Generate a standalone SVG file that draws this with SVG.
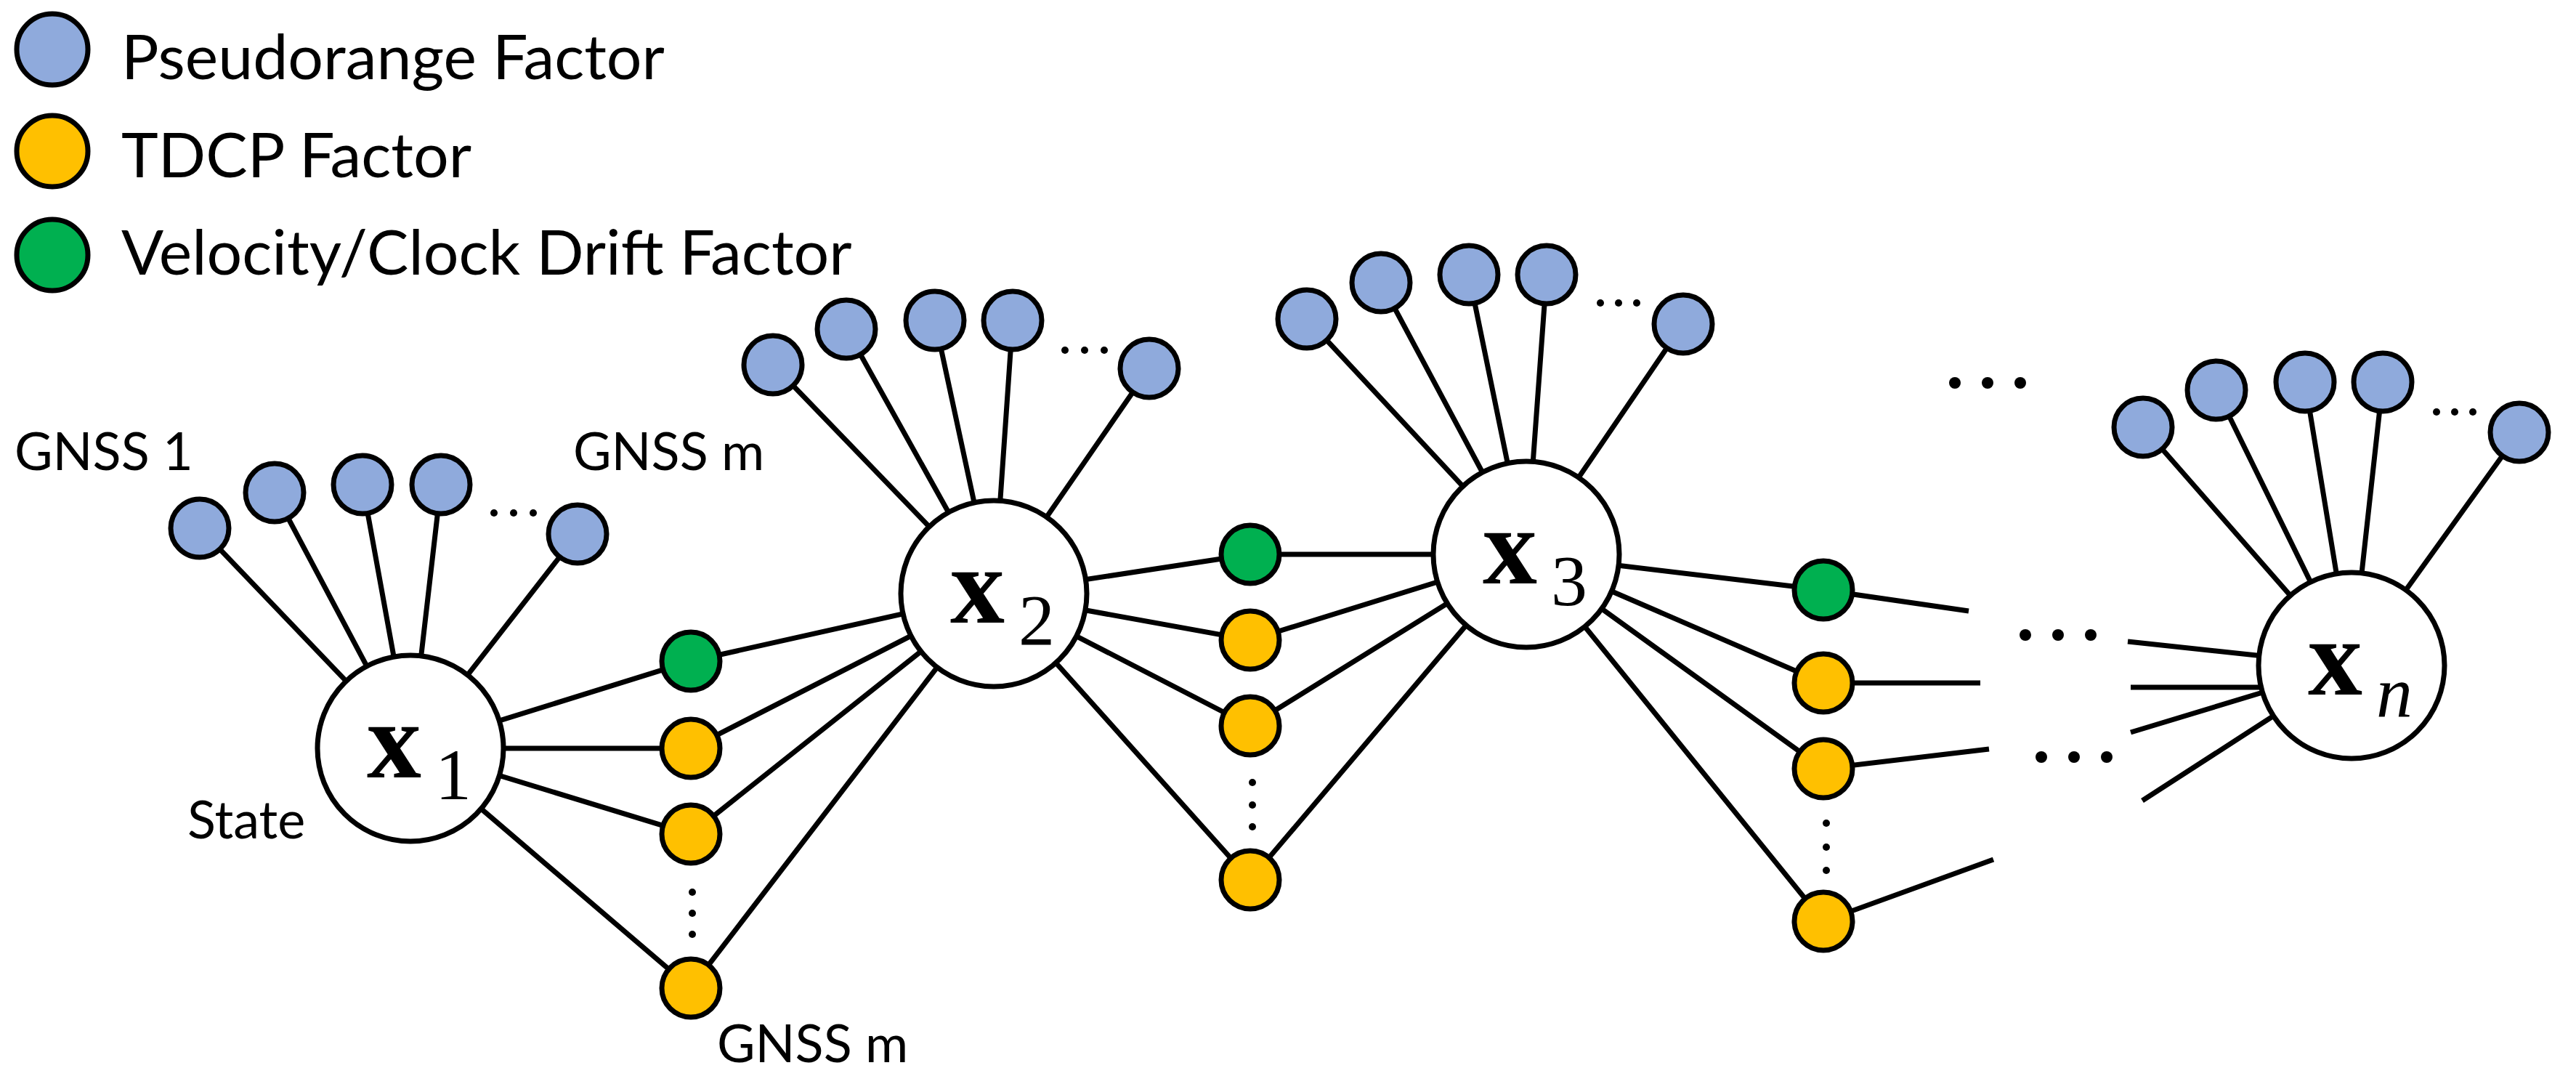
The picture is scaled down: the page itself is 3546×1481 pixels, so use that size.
<svg xmlns="http://www.w3.org/2000/svg" width="3546" height="1481" viewBox="0 0 3546 1481">
<style>
.l{stroke:#000;stroke-width:7;fill:none}
.b{fill:#8faadc;stroke:#000;stroke-width:7}
.o{fill:#ffc000;stroke:#000;stroke-width:7}
.g{fill:#00b050;stroke:#000;stroke-width:7}
.s{fill:#fff;stroke:#000;stroke-width:7}
.t{font-family:Lato,"Open Sans",sans-serif;fill:#000}
.lg{font-size:86px}
.lb{font-size:72px}
.xv{font-family:"Liberation Serif",serif;font-weight:bold;font-size:150px}
.sub{font-family:"Liberation Serif",serif;font-size:100px}
</style>
<g id="legend">
<circle class="b" cx="72" cy="68" r="49"/><text class="t lg" x="167" y="109">Pseudorange Factor</text>
<circle class="o" cx="72" cy="208" r="49"/><text class="t lg" x="167" y="244">TDCP Factor</text>
<circle class="g" cx="72" cy="351" r="49"/><text class="t lg" x="167" y="378">Velocity/Clock Drift Factor</text>
</g>
<g id="connectors">
<!-- x1 blues -->
<path class="l" d="M275 727L565 1030M378 678L565 1030M499 667L565 1030M607 667L565 1030M795 735L565 1030"/>
<path class="l" d="M1064 502L1368 817M1165 453L1368 817M1287 441L1368 817M1394 441L1368 817M1582 507L1368 817"/>
<path class="l" d="M1799 439L2101 763M1901 389L2101 763M2022 378L2101 763M2129 378L2101 763M2317 446L2101 763"/>
<path class="l" d="M2950 588L3237 916M3051 537L3237 916M3173 526L3237 916M3280 526L3237 916M3468 595L3237 916"/>
<!-- x1-x2 factors -->
<path class="l" d="M565 1030L951 910L1368 817M565 1030L951 1030L1368 817M565 1030L951 1148L1368 817M565 1030L951 1360L1368 817"/>
<path class="l" d="M1368 817L1721 763L2101 763M1368 817L1721 881L2101 763M1368 817L1721 999L2101 763M1368 817L1721 1211L2101 763"/>
<path class="l" d="M2101 763L2510 812L2710 841M2101 763L2510 940L2726 940M2101 763L2510 1058L2738 1031M2101 763L2510 1268L2744 1183"/>
<path class="l" d="M2929 883L3237 916M2933 946L3237 946M2933 1008L3237 916M2949 1102L3237 916"/>
</g>
<g id="dots" fill="#000">
<circle cx="680" cy="706" r="5"/><circle cx="707" cy="706" r="5"/><circle cx="734" cy="706" r="5"/>
<circle cx="1466" cy="482" r="5"/><circle cx="1493" cy="482" r="5"/><circle cx="1520" cy="482" r="5"/>
<circle cx="2203" cy="417" r="5"/><circle cx="2228" cy="417" r="5"/><circle cx="2253" cy="417" r="5"/>
<circle cx="3354" cy="567" r="5"/><circle cx="3379" cy="567" r="5"/><circle cx="3404" cy="567" r="5"/>
<circle cx="953" cy="1228" r="5"/><circle cx="953" cy="1257" r="5"/><circle cx="953" cy="1286" r="5"/>
<circle cx="1724" cy="1077" r="5"/><circle cx="1724" cy="1108" r="5"/><circle cx="1724" cy="1138" r="5"/>
<circle cx="2514" cy="1133" r="5"/><circle cx="2514" cy="1166" r="5"/><circle cx="2514" cy="1198" r="5"/>
<circle cx="2691" cy="527" r="8"/><circle cx="2736" cy="527" r="8"/><circle cx="2781" cy="527" r="8"/>
<circle cx="2788" cy="874" r="8"/><circle cx="2833" cy="874" r="8"/><circle cx="2878" cy="874" r="8"/>
<circle cx="2810" cy="1042" r="8"/><circle cx="2855" cy="1042" r="8"/><circle cx="2900" cy="1042" r="8"/>
</g>
<g id="pr-x1"><circle class="b" cx="275" cy="727" r="40"/><circle class="b" cx="378" cy="678" r="40"/><circle class="b" cx="499" cy="667" r="40"/><circle class="b" cx="607" cy="667" r="40"/><circle class="b" cx="795" cy="735" r="40"/></g>
<g id="pr-x2"><circle class="b" cx="1064" cy="502" r="40"/><circle class="b" cx="1165" cy="453" r="40"/><circle class="b" cx="1287" cy="441" r="40"/><circle class="b" cx="1394" cy="441" r="40"/><circle class="b" cx="1582" cy="507" r="40"/></g>
<g id="pr-x3"><circle class="b" cx="1799" cy="439" r="40"/><circle class="b" cx="1901" cy="389" r="40"/><circle class="b" cx="2022" cy="378" r="40"/><circle class="b" cx="2129" cy="378" r="40"/><circle class="b" cx="2317" cy="446" r="40"/></g>
<g id="pr-xn"><circle class="b" cx="2950" cy="588" r="40"/><circle class="b" cx="3051" cy="537" r="40"/><circle class="b" cx="3173" cy="526" r="40"/><circle class="b" cx="3280" cy="526" r="40"/><circle class="b" cx="3468" cy="595" r="40"/></g>
<g id="f12"><circle class="g" cx="951" cy="910" r="40"/><circle class="o" cx="951" cy="1030" r="40"/><circle class="o" cx="951" cy="1148" r="40"/><circle class="o" cx="951" cy="1360" r="40"/></g>
<g id="f23"><circle class="g" cx="1721" cy="763" r="40"/><circle class="o" cx="1721" cy="881" r="40"/><circle class="o" cx="1721" cy="999" r="40"/><circle class="o" cx="1721" cy="1211" r="40"/></g>
<g id="f3n"><circle class="g" cx="2510" cy="812" r="40"/><circle class="o" cx="2510" cy="940" r="40"/><circle class="o" cx="2510" cy="1058" r="40"/><circle class="o" cx="2510" cy="1268" r="40"/></g>
<g id="x1"><circle class="s" cx="565" cy="1030" r="128"/><text class="xv" x="505" y="1070">x</text><text class="sub" x="599" y="1100">1</text></g>
<g id="x2"><circle class="s" cx="1368" cy="817" r="128"/><text class="xv" x="1308" y="857">x</text><text class="sub" x="1402" y="887">2</text></g>
<g id="x3"><circle class="s" cx="2101" cy="763" r="128"/><text class="xv" x="2041" y="803">x</text><text class="sub" x="2135" y="833">3</text></g>
<g id="xn"><circle class="s" cx="3237" cy="916" r="128"/><text class="xv" x="3177" y="956">x</text><text class="sub" x="3271" y="986" font-style="italic">n</text></g>
<g id="labels">
<text class="t lb" x="20" y="647">GNSS 1</text>
<text class="t lb" x="789" y="647">GNSS m</text>
<text class="t lb" x="258" y="1154">State</text>
<text class="t lb" x="987" y="1462">GNSS m</text>
</g>
</svg>
